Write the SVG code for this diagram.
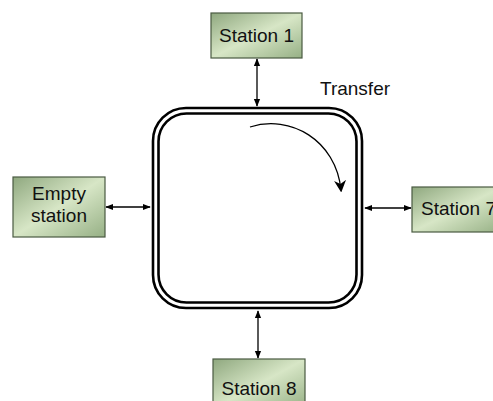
<svg xmlns="http://www.w3.org/2000/svg" width="493" height="401" viewBox="0 0 493 401">
<style>
.box{stroke:#4a5a42;stroke-width:1.2;fill:url(#g)}
.lbl{font-family:"Liberation Sans",Arial,sans-serif;font-size:19px;fill:#111}
.conn{stroke:#000;stroke-width:1.3;fill:none}
.loop{stroke:#000;stroke-width:2.6;fill:none}
</style>
<defs>
<linearGradient id="g" x1="0" y1="0" x2="1" y2="1">
<stop offset="0" stop-color="#8fa87f"/>
<stop offset="0.5" stop-color="#d7e6c6"/>
<stop offset="1" stop-color="#96b085"/>
</linearGradient>
<marker id="ah" viewBox="0 0 10 10" refX="9" refY="5" markerWidth="8" markerHeight="8" orient="auto-start-reverse" markerUnits="userSpaceOnUse">
<path d="M0,1 L10,5 L0,9 Z" fill="#000"/>
</marker>
<marker id="ah2" viewBox="0 0 10 10" refX="8" refY="5" markerWidth="12" markerHeight="12" orient="auto" markerUnits="userSpaceOnUse">
<path d="M0,0 L10,5 L0,10 L3,5 Z" fill="#000"/>
</marker>
</defs>
<g id="loop">
<rect class="loop" x="153" y="108" width="209" height="200" rx="33"/>
<rect class="loop" x="158.5" y="113.5" width="198" height="189" rx="28"/>
</g>
<g id="connectors">
<line class="conn" x1="257" y1="59" x2="257" y2="106" marker-start="url(#ah)" marker-end="url(#ah)"/>
<line class="conn" x1="106" y1="207" x2="150" y2="207" marker-start="url(#ah)" marker-end="url(#ah)"/>
<line class="conn" x1="365" y1="208" x2="411" y2="208" marker-start="url(#ah)" marker-end="url(#ah)"/>
<line class="conn" x1="258" y1="311" x2="258" y2="358" marker-start="url(#ah)" marker-end="url(#ah)"/>
<path class="conn" d="M250,127 C290,114 336,140 341,190" stroke-width="2.4" marker-end="url(#ah2)"/>
</g>
<g id="transfer">
<text class="lbl" x="320" y="95">Transfer</text>
</g>
<g id="station1">
<rect class="box" x="211" y="13" width="91" height="45"/>
<text class="lbl" x="256.5" y="42" text-anchor="middle">Station 1</text>
</g>
<g id="empty">
<rect class="box" x="13" y="177" width="92" height="60"/>
<text class="lbl" x="59" y="200" text-anchor="middle">Empty</text>
<text class="lbl" x="59" y="222" text-anchor="middle">station</text>
</g>
<g id="station7">
<rect class="box" x="412" y="187" width="90" height="45"/>
<text class="lbl" x="421" y="215">Station 7</text>
</g>
<g id="station8">
<rect class="box" x="213" y="359" width="92" height="50"/>
<text class="lbl" x="259" y="395" text-anchor="middle">Station 8</text>
</g>
</svg>
